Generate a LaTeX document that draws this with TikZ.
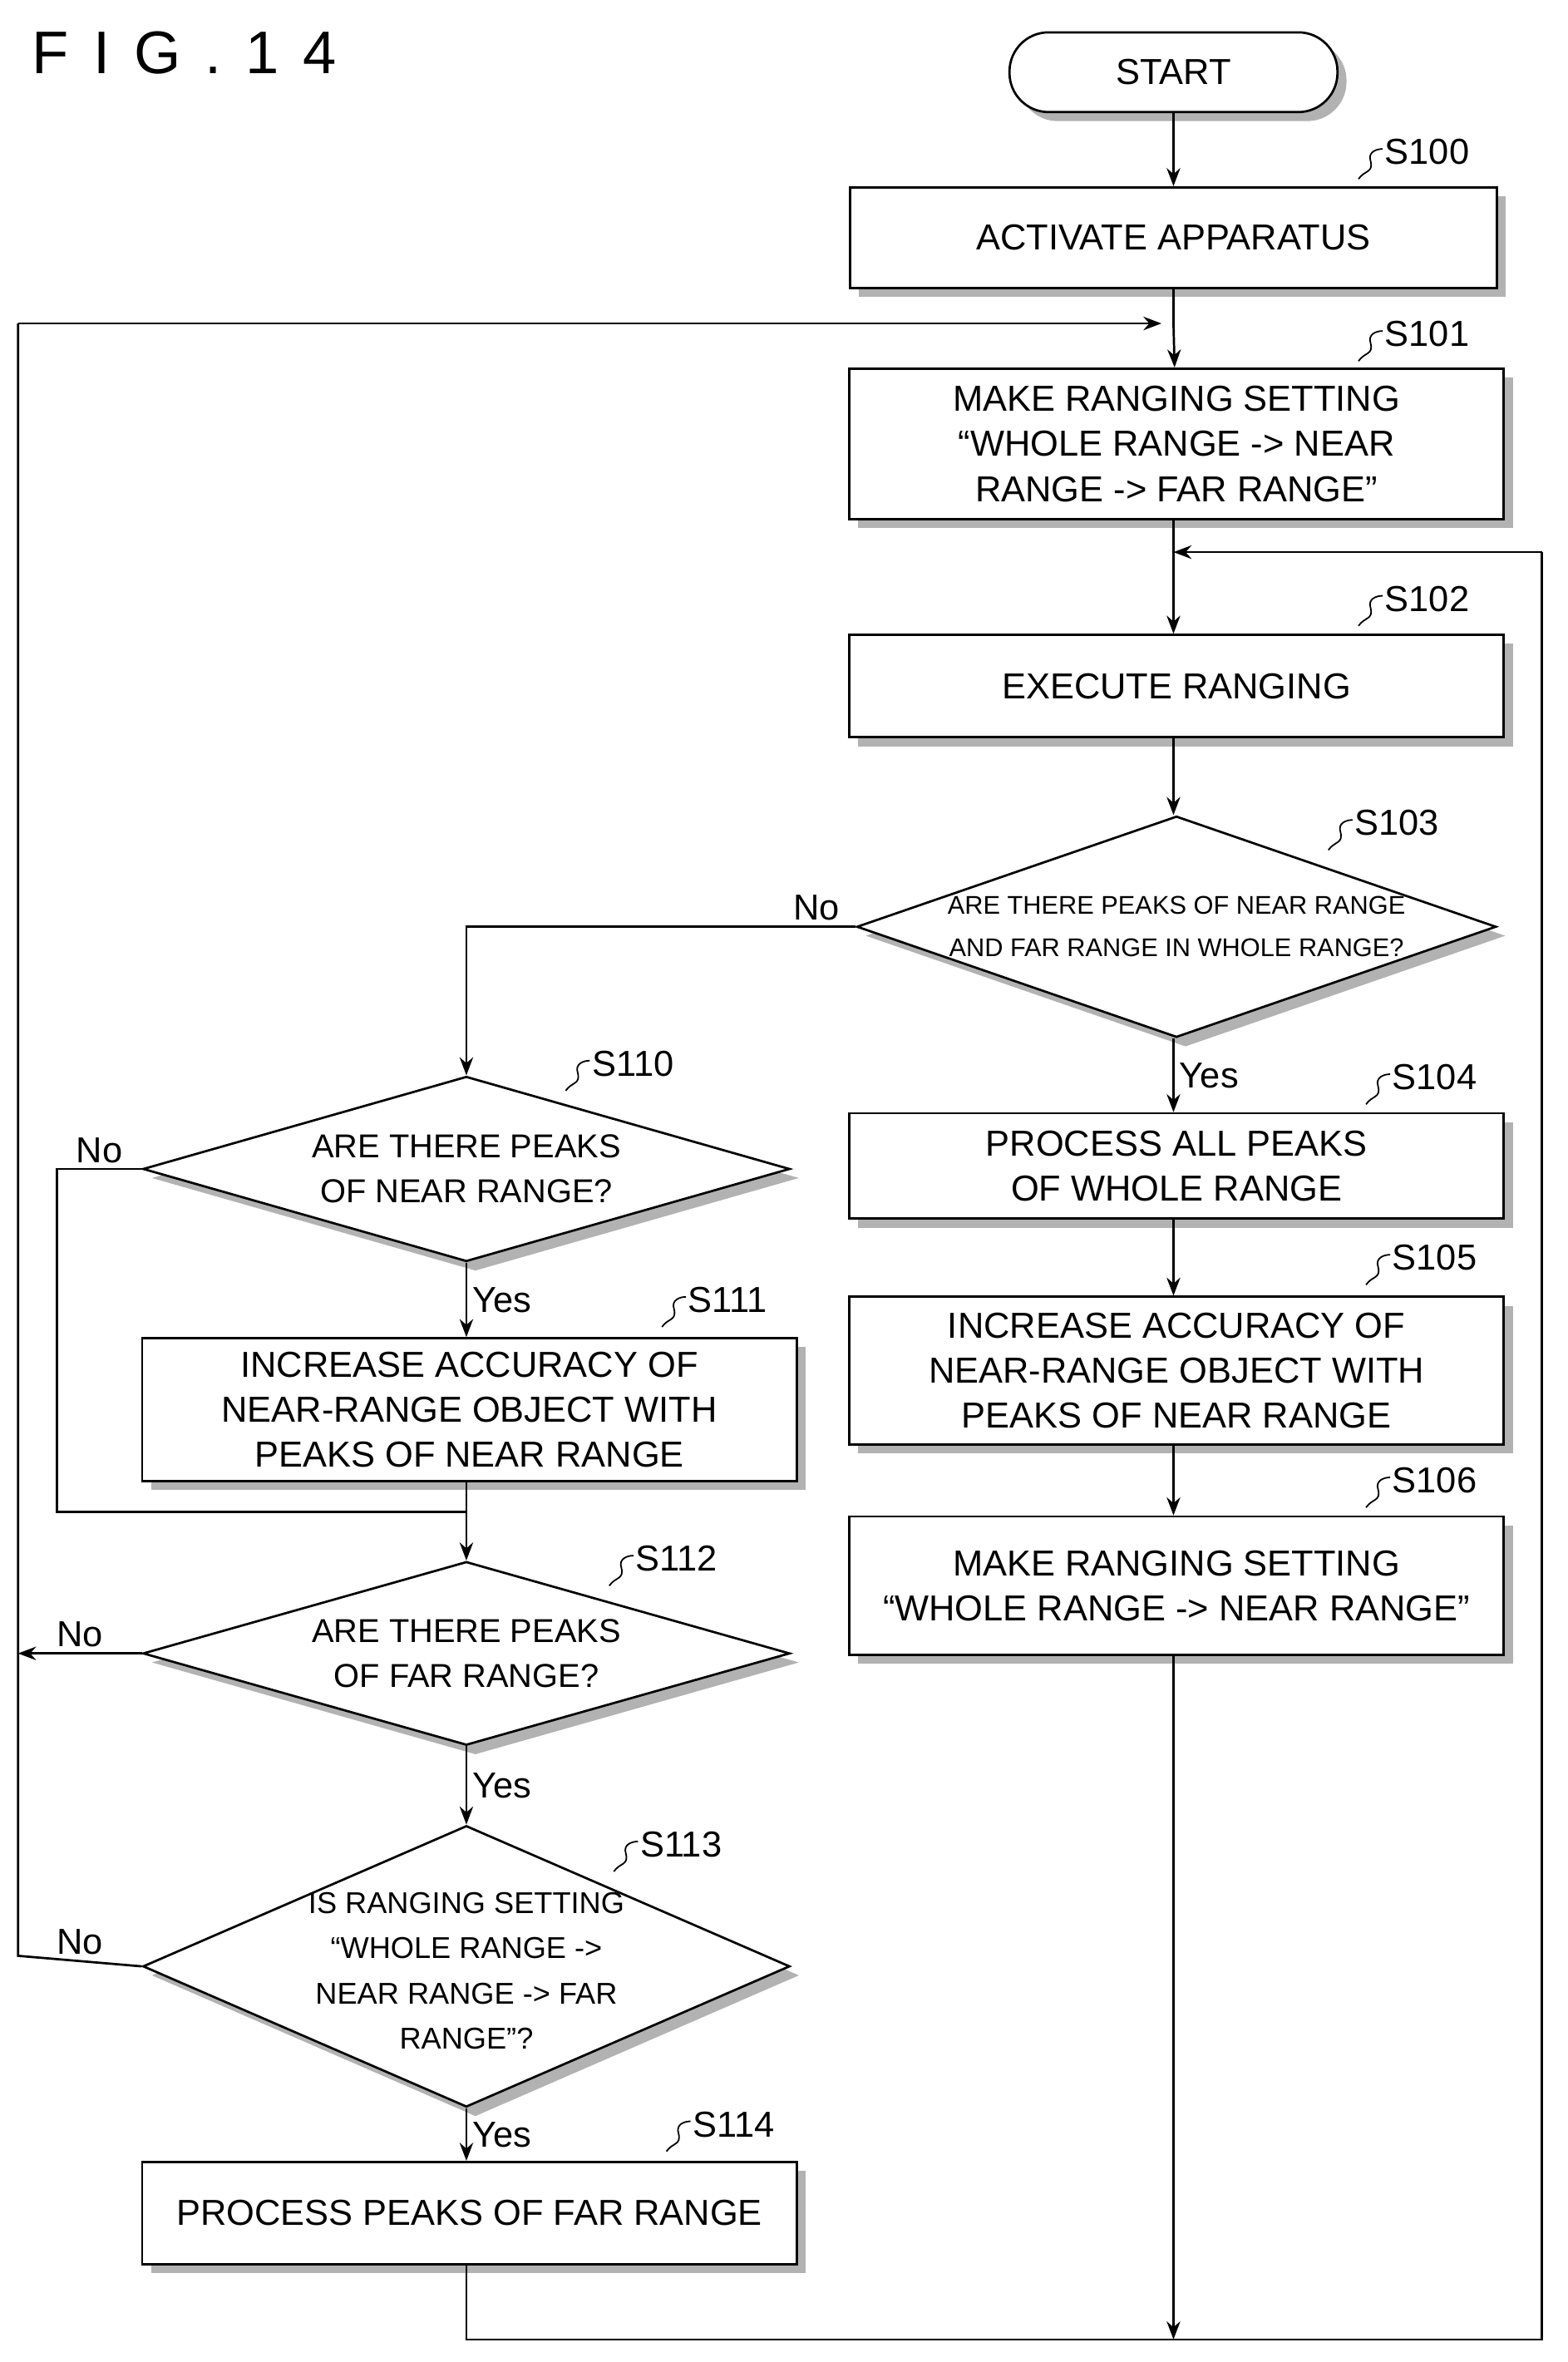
\documentclass[tikz,border=0pt]{standalone}
\usepackage{fontspec}
\setmainfont{Liberation Sans}
\usetikzlibrary{shapes.geometric,shadows,arrows.meta}
\begin{document}
\begin{tikzpicture}[x=1pt,y=-1pt,
 sh/.style={drop shadow={shadow xshift=6pt,shadow yshift=-6pt,fill=gray!60,opacity=1}},
 box/.style={draw,line width=1.5pt,fill=white,sh,align=center,inner sep=0pt,font=\fontsize{24}{30}\selectfont},
 dia/.style={draw=none,align=center,inner sep=0pt,font=\fontsize{22}{30}\selectfont},
 ln/.style={line width=1.5pt},
 ar/.style={line width=1.5pt,-{Stealth[length=12pt,width=9pt]}},
 lab/.style={font=\fontsize{24}{28}\selectfont}]
\useasboundingbox (0,0) rectangle (1042,1570);
\newcommand\stp[3]{\draw[line width=1pt] (#1-12,#2+14) .. controls (#1-8,#2+8) and (#1-2,#2+10) .. (#1-4,#2+2) .. controls (#1-6,#2-4) and (#1,#2-6) .. (#1+4,#2-6); \node[lab,anchor=west] at (#1+2,#2-4) {#3};}
\newcommand\mydia[5]{%
 \fill[gray!60] (#2+6-#4/2,#3+6) -- (#2+6,#3+6-#5/2) -- (#2+6+#4/2,#3+6) -- (#2+6,#3+6+#5/2) -- cycle;
 \node[diamond,draw,fill=white,line width=1.5pt,minimum width=#4,minimum height=#5,inner sep=0pt] (#1) at (#2,#3) {};}
\node[anchor=west,font=\fontsize{40}{40}\selectfont\addfontfeature{LetterSpace=40}] (fig) at (18,35) {FIG.14};
\node[box,rounded corners=26pt,minimum width=218,minimum height=53] (st) at (780,48) {START};
\node[box,minimum width=430,minimum height=67] (s100) at (780,158) {ACTIVATE APPARATUS};
\node[box,minimum width=435,minimum height=100] (s101) at (782,295) {MAKE RANGING SETTING\\“WHOLE RANGE -> NEAR\\RANGE -> FAR RANGE”};
\node[box,minimum width=435,minimum height=68] (s102) at (782,456) {EXECUTE RANGING};
\mydia{s103}{782}{616}{425}{147}
\node[dia,font=\fontsize{17}{28}\selectfont] (t103) at (782,616) {ARE THERE PEAKS OF NEAR RANGE\\AND FAR RANGE IN WHOLE RANGE?};
\node[box,minimum width=435,minimum height=70] (s104) at (782,775) {PROCESS ALL PEAKS\\OF WHOLE RANGE};
\node[box,minimum width=435,minimum height=98] (s105) at (782,911) {INCREASE ACCURACY OF\\NEAR-RANGE OBJECT WITH\\PEAKS OF NEAR RANGE};
\node[box,minimum width=435,minimum height=92] (s106) at (782,1054) {MAKE RANGING SETTING\\“WHOLE RANGE -> NEAR RANGE”};
\mydia{s110}{310}{777}{430}{123}
\node[dia] (t110) at (310,777) {ARE THERE PEAKS\\OF NEAR RANGE?};
\node[box,minimum width=435,minimum height=95] (s111) at (312,937) {INCREASE ACCURACY OF\\NEAR-RANGE OBJECT WITH\\PEAKS OF NEAR RANGE};
\mydia{s112}{310}{1099}{430}{122}
\node[dia] (t112) at (310,1099) {ARE THERE PEAKS\\OF FAR RANGE?};
\mydia{s113}{310}{1307}{430}{187}
\node[dia,font=\fontsize{20}{30}\selectfont] (t113) at (310,1310) {IS RANGING SETTING\\“WHOLE RANGE ->\\NEAR RANGE -> FAR\\RANGE”?};
\node[box,minimum width=435,minimum height=68] (s114) at (312,1471) {PROCESS PEAKS OF FAR RANGE};
\stp{915}{105}{S100}\stp{915}{226}{S101}\stp{915}{402}{S102}\stp{895}{551}{S103}
\stp{920}{720}{S104}\stp{920}{840}{S105}\stp{920}{988}{S106}
\stp{388}{711}{S110}\stp{452}{868}{S111}\stp{417}{1040}{S112}\stp{420}{1230}{S113}\stp{455}{1416}{S114}
\coordinate (j1) at (780,215); \coordinate (j2) at (780,367);
\coordinate (j3) at (310,1005); \coordinate (b1) at (780,1555);
\draw[ar] (st) -- (s100);
\draw[ln] (s100) -- (j1); \draw[ar] (j1) -- (s101);
\draw[ln] (s101.south -| j2) -- (j2); \draw[ar] (j2) -- (s102.north -| j2);
\draw[ar] (s102.south -| j2) -- (s103.north -| j2);
\draw[ar] (s103.south -| j2) -- node[lab,right,pos=0.5]{Yes} (s104.north -| j2);
\draw[ar] (s104.south -| j2) -- (s105.north -| j2); \draw[ar] (s105.south -| j2) -- (s106.north -| j2);
\draw[ar] (s106.south -| j2) -- (b1);
\draw[ar] (s103.west) -- node[lab,above,pos=0.1]{No} (310,616) -- (s110.north);
\draw[ar] (s110.south) -- node[lab,right]{Yes} (s111.north -| s110.south);
\draw[ln] (s110.west) -- node[lab,above,pos=0.5]{No} (38,777) -- (38,1005) -- (j3);
\draw[ln] (s111.south -| j3) -- (j3); \draw[ar] (j3) -- (s112.north);
\draw[ar] (s112.west) -- node[lab,above]{No} (12,1099);
\draw[ar] (s112.south) -- node[lab,right]{Yes} (s113.north);
\draw[ln] (s113.west) -- node[lab,above]{No} (12,1300) -- (12,215);
\draw[ar] (12,215) -- (772,215);
\draw[ar] (s113.south) -- node[lab,right]{Yes} (s114.north -| s113.south);
\draw[ln] (s114.south -| s113.south) -- (310,1555) -- (1025,1555) -- (1025,367);
\draw[ar] (1025,367) -- (j2);
\end{tikzpicture}
\end{document}
